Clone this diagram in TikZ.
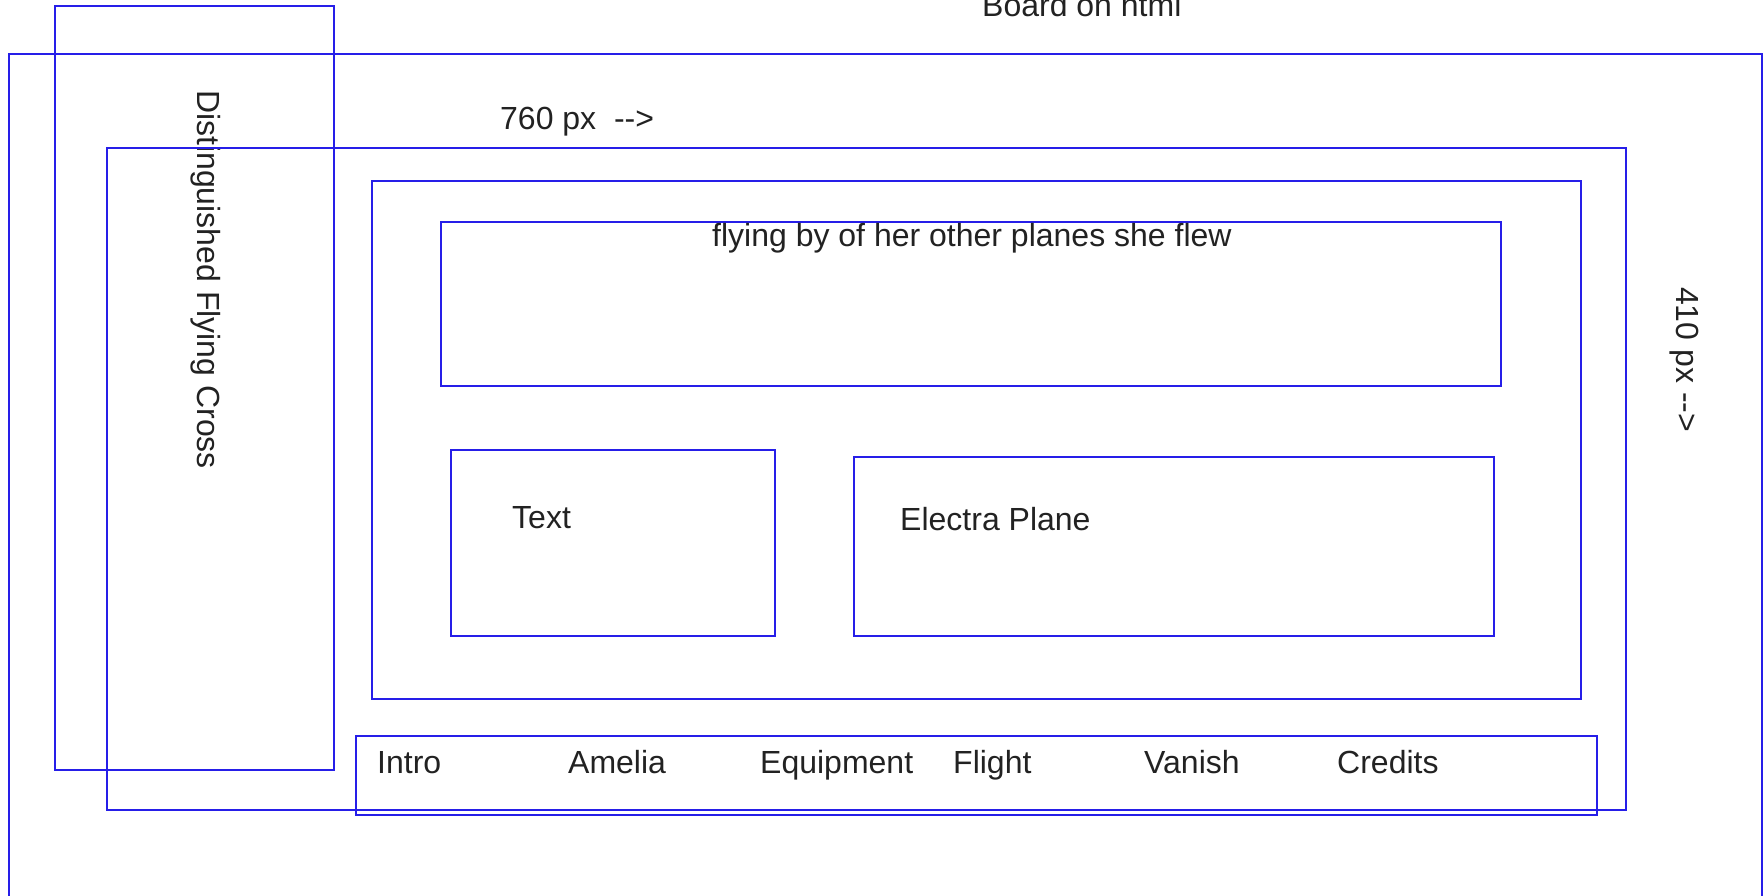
\documentclass[tikz,border=0pt]{standalone}
\usepackage{fontspec}
\setmainfont{Liberation Sans}
\definecolor{wireblue}{RGB}{38,30,232}
\definecolor{inkgray}{RGB}{34,34,34}
\begin{document}
\begin{tikzpicture}[x=1pt,y=-1pt,
    box/.style={draw=wireblue,line width=2.8},
    lbl/.style={anchor=base west,inner sep=0pt,text=inkgray,font=\fontsize{32}{38}\selectfont}]
        \useasboundingbox (0,0) rectangle (1764,896);
        \clip (0,0) rectangle (1764,896);
        %board
        \draw [box](9,54) rectangle (1762,1000);
        \node (board) at (982,17)[lbl] {Board on html};
        \node (wide) at (500,130)[lbl] {760 px\ \ -{}->};
        \node (high) at (1676,287)[lbl,rotate=-90] {410 px -{}->};
        %side bar
        \draw [box](55,6) rectangle (334,770);
        \node (cross) at (197,90)[lbl,rotate=-90] {Distinguished Flying Cross};
        %container
        \draw [box](107,148) rectangle (1626,810);
        \draw [box](372,181) rectangle (1581,699);
        %banner
        \draw [box](441,222) rectangle (1501,386);
        \node (banner) at (712,246)[lbl] {flying by of her other planes she flew};
        %text and plane
        \draw [box](451,450) rectangle (775,636);
        \node (text) at (512,528)[lbl] {Text};
        \draw [box](854,457) rectangle (1494,636);
        \node (plane) at (900,530)[lbl] {Electra Plane};
        %menu
        \draw [box](356,736) rectangle (1597,815);
        \node (intro) at (377,773)[lbl] {Intro};
        \node (amelia) at (568,773)[lbl] {Amelia};
        \node (equip) at (760,773)[lbl] {Equipment};
        \node (flight) at (953,773)[lbl] {Flight};
        \node (vanish) at (1144,773)[lbl] {Vanish};
        \node (credits) at (1337,773)[lbl] {Credits};
    \end{tikzpicture}
\end{document}
